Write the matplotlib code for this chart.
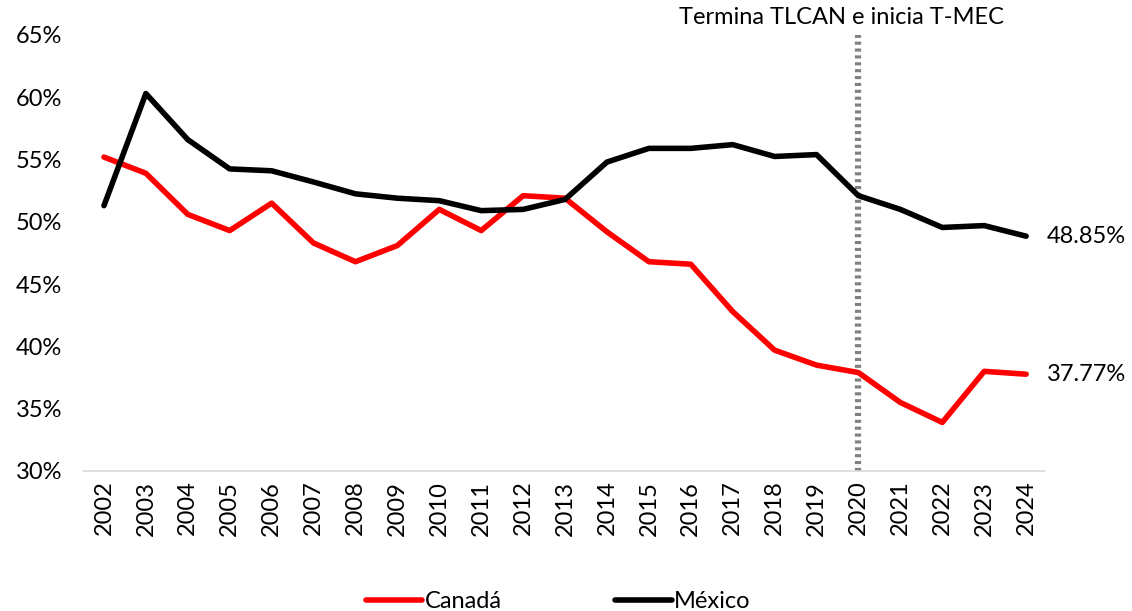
import matplotlib.pyplot as plt
from matplotlib.ticker import FuncFormatter

plt.rcParams['font.family'] = ['Lato', 'DejaVu Sans']

years = list(range(2002, 2025))
canada = [55.2, 53.9, 50.6, 49.3, 51.5, 48.3, 46.8, 48.1, 51.0, 49.3, 52.1, 51.9,
          49.2, 46.8, 46.6, 42.8, 39.7, 38.5, 37.9, 35.5, 33.9, 38.0, 37.77]
mexico = [51.3, 60.3, 56.6, 54.25, 54.1, 53.2, 52.25, 51.9, 51.7, 50.9, 51.0, 51.8,
          54.8, 55.9, 55.9, 56.2, 55.25, 55.4, 52.1, 51.0, 49.55, 49.7, 48.85]
event_year = 2020
event_label = 'Termina TLCAN e inicia T-MEC'

fs = 17

fig = plt.figure(figsize=(11.32, 6.11), dpi=100)
ax = fig.add_axes([83 / 1132, 1 - 471 / 611, (1045 - 83) / 1132, (471 - 35) / 611])

ax.plot(years, canada, color='#ff0000', lw=4, label='Canadá', solid_capstyle='round')
ax.plot(years, mexico, color='black', lw=4, label='México', solid_capstyle='round')
ax.axvline(event_year, color='#808080', lw=4.5, linestyle=(0, (0.5, 0.6)), zorder=1)
ax.text(event_year - 0.4, 66.4, event_label, ha='center', va='center', fontsize=fs,
        clip_on=False)

ax.text(years[-1] + 0.5, canada[-1], f'{canada[-1]:.2f}%', va='center', fontsize=fs)
ax.text(years[-1] + 0.5, mexico[-1], f'{mexico[-1]:.2f}%', va='center', fontsize=fs)

ax.set_xlim(2001.5, 2024.45)
ax.set_ylim(30, 65)
ax.set_yticks(range(30, 66, 5))
ax.yaxis.set_major_formatter(FuncFormatter(lambda v, p: f'{v:.0f}%'))
ax.set_xticks(years)
ax.set_xticklabels([str(y) for y in years], rotation=90)
ax.tick_params(axis='both', length=0, labelsize=fs)
ax.tick_params(axis='y', pad=15)
ax.tick_params(axis='x', pad=7)
for s in ['top', 'right', 'left']:
    ax.spines[s].set_visible(False)
ax.spines['bottom'].set_color('#d9d9d9')
ax.spines['bottom'].set_linewidth(1.2)

ax.legend(loc='center', bbox_to_anchor=(0.494, -0.3), ncol=2, frameon=False,
          fontsize=fs, handlelength=2.4, handletextpad=0.1, columnspacing=4.8)

fig.savefig('out.png', dpi=100)
